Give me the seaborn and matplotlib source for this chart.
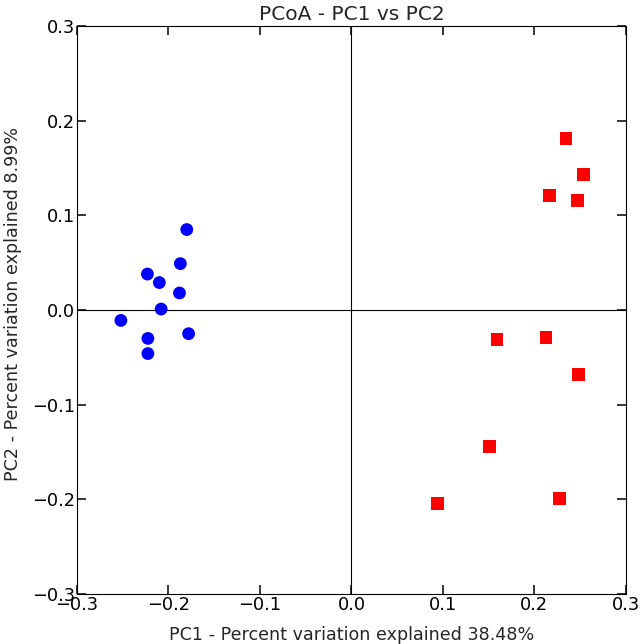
import matplotlib
matplotlib.use("Agg")
import matplotlib.pyplot as plt
import seaborn as sns
import pandas as pd

blue_x = [-0.180, -0.187, -0.223, -0.210, -0.188, -0.208, -0.252, -0.178, -0.2225, -0.2225]
blue_y = [0.085, 0.049, 0.038, 0.029, 0.018, 0.001, -0.011, -0.025, -0.030, -0.046]
red_x = [0.2345, 0.2534, 0.2167, 0.2469, 0.159, 0.2127, 0.248, 0.1505, 0.227, 0.0938]
red_y = [0.181, 0.143, 0.121, 0.116, -0.031, -0.029, -0.0685, -0.1445, -0.199, -0.204]
ticks = [-0.3, -0.2, -0.1, 0.0, 0.1, 0.2, 0.3]

df = pd.DataFrame({
    "PC1": blue_x + red_x,
    "PC2": blue_y + red_y,
    "group": ["A"] * len(blue_x) + ["B"] * len(red_x),
})

sns.set_style("ticks")
plt.rcParams["font.family"] = ["DejaVu Sans"]

fig = plt.figure(figsize=(6.4, 6.44), dpi=100)
ax = fig.add_axes([0.1203, 0.0776, 0.8577, 0.882])

sns.scatterplot(data=df, x="PC1", y="PC2", hue="group", style="group",
                palette={"A": "#0000ff", "B": "#ff0000"},
                markers={"A": "o", "B": "s"}, s=85, linewidth=0,
                legend=False, ax=ax, zorder=3)

ax.axhline(0, color="black", lw=0.8, zorder=1)
ax.axvline(0, color="black", lw=0.8, zorder=1)
ax.set_xlim(-0.3, 0.3)
ax.set_ylim(-0.3, 0.3)
ax.set_xticks(ticks)
ax.set_yticks(ticks)
ax.set_xticklabels([f"{t:.1f}".replace("-", "\u2212") for t in ticks])
ax.set_yticklabels([f"{t:.1f}".replace("-", "\u2212") for t in ticks])
ax.tick_params(direction="in", length=6.5, width=1.1, top=True, right=True,
               labelsize=12.8, colors="black", pad=1.5)
for sp in ax.spines.values():
    sp.set_visible(True)
    sp.set_color("black")
    sp.set_linewidth(0.8)

ax.set_xlabel("PC1 - Percent variation explained 38.48%", fontsize=12.6)
ax.set_ylabel("PC2 - Percent variation explained 8.99%", fontsize=12.6)
ax.xaxis.set_label_coords(0.5, -0.056)
ax.yaxis.set_label_coords(-0.1, 0.51)
ax.set_title("PCoA - PC1 vs PC2", fontsize=14.5, pad=4)

fig.savefig("out.png", dpi=100)
